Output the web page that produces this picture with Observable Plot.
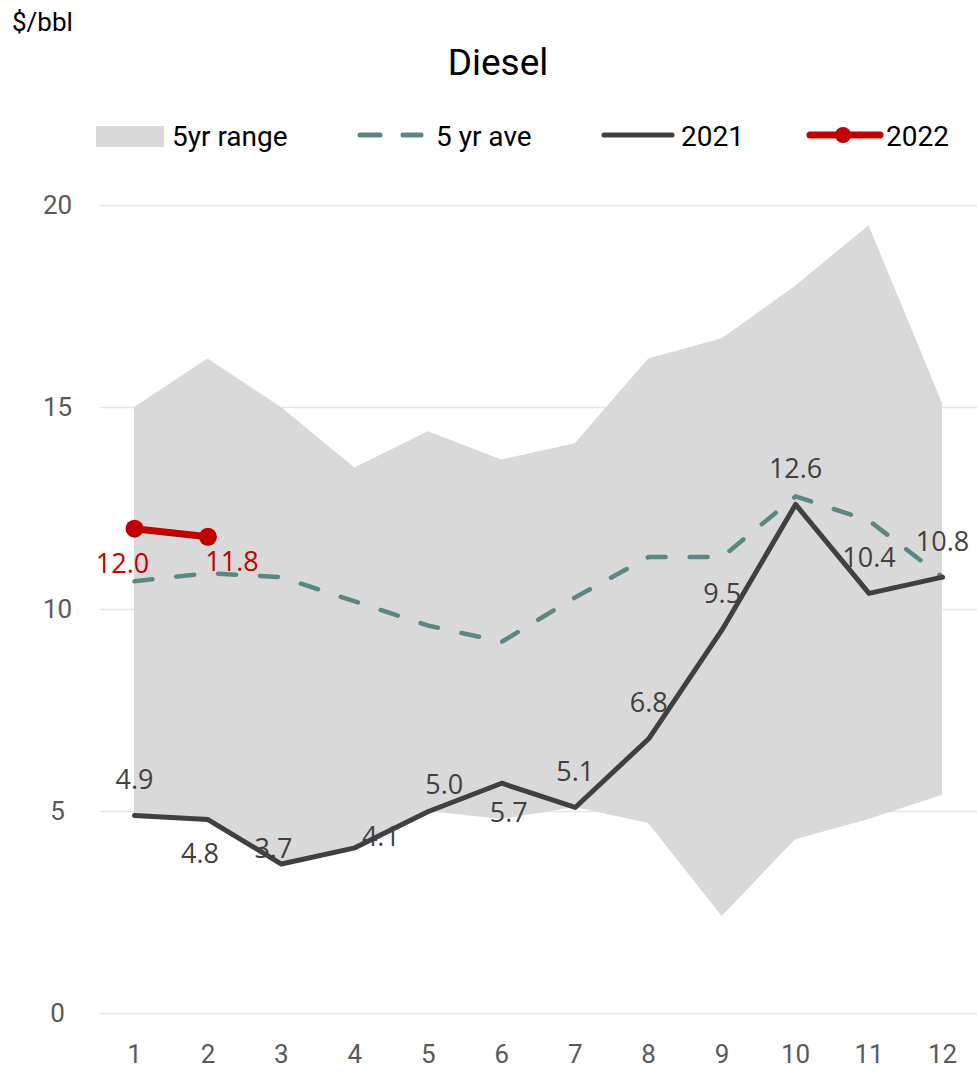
<!DOCTYPE html>
<html>
<head>
<meta charset="utf-8">
<script src="https://cdn.jsdelivr.net/npm/d3@7"></script>
<script src="https://cdn.jsdelivr.net/npm/@observablehq/plot@0.6"></script>
<style>
  body { margin: 0; background: #fff; }
  #header, #chart { width: 977px; }
  #header svg, #chart svg { display: block; }
</style>
</head>
<body>
<div id="header">
  <svg width="977" height="175" font-family="Roboto, 'Liberation Sans', sans-serif">
    <text x="12" y="31" font-size="26" fill="#000">$/bbl</text>
    <text x="498" y="75" font-size="37" fill="#000" text-anchor="middle">Diesel</text>
    <rect x="96" y="126" width="68" height="21" fill="#d9d9d9"></rect>
    <text x="172" y="146" font-size="28" fill="#000">5yr range</text>
    <line x1="360" x2="380" y1="135" y2="135" stroke="#5a8784" stroke-width="5" stroke-linecap="round"></line>
    <line x1="403" x2="421" y1="135" y2="135" stroke="#5a8784" stroke-width="5" stroke-linecap="round"></line>
    <text x="436" y="146" font-size="28" fill="#000">5 yr ave</text>
    <line x1="604" x2="672" y1="135" y2="135" stroke="#404040" stroke-width="5" stroke-linecap="round"></line>
    <text x="681" y="146" font-size="28" fill="#000">2021</text>
    <line x1="810" x2="880" y1="135" y2="135" stroke="#c00000" stroke-width="7" stroke-linecap="round"></line>
    <circle cx="843" cy="135" r="8" fill="#c00000"></circle>
    <text x="886" y="146" font-size="28" fill="#000">2022</text>
  </svg>
</div>
<div id="chart"></div>
<script>
// ---- data ----
const months = [1, 2, 3, 4, 5, 6, 7, 8, 9, 10, 11, 12];
const rangeLow = [4.9, 4.8, 3.7, 4.1, 5.0, 4.8, 5.1, 4.7, 2.4, 4.3, 4.8, 5.4];
const rangeHigh = [15.0, 16.2, 15.0, 13.5, 14.4, 13.7, 14.1, 16.2, 16.7, 18.0, 19.5, 15.1];
const avg5yr = [10.7, 10.9, 10.8, 10.2, 9.6, 9.2, 10.3, 11.3, 11.3, 12.8, 12.2, 10.8];
const y2021 = [4.9, 4.8, 3.7, 4.1, 5.0, 5.7, 5.1, 6.8, 9.5, 12.6, 10.4, 10.8];
const y2022 = [12.0, 11.8];
const yTicks = [0, 5, 10, 15, 20];
const xTicks = months;

// ---- label placement (layout, not data) ----
const place2021 = ["above", "below", "lowAbove", "right", "aboveRight", "belowRight", "above", "above", "above", "above", "above", "above"];
const place2022 = ["belowLeft", "belowRightRed"];
const offsets = {
  above: [0, -35], below: [-8, 35], lowAbove: [-8, -15], right: [26, -11],
  aboveRight: [16, -26], belowRight: [7, 30], belowLeft: [-12, 36], belowRightRed: [24, 26]
};

const rows = months.map((m, i) => ({month: m, low: rangeLow[i], high: rangeHigh[i], avg: avg5yr[i], v: y2021[i], place: place2021[i]}));
const rows22 = y2022.map((v, i) => ({month: months[i], v, place: place2022[i]}));

const labelFont = "'Open Sans', 'Noto Sans', sans-serif";
function labelMarks(data, fill) {
  const groups = d3.group(data, d => d.place);
  return Array.from(groups, ([p, ds]) => Plot.text(ds, {
    x: "month", y: "v", text: d => d.v.toFixed(1),
    dx: offsets[p][0], dy: offsets[p][1],
    fill, fontSize: 27, fontFamily: labelFont
  }));
}

const chart = Plot.plot({
  width: 977,
  height: 898,
  marginLeft: 100,
  marginRight: 0,
  marginTop: 30,
  marginBottom: 60,
  style: {fontFamily: "Roboto, 'Liberation Sans', sans-serif", color: "#595959", background: "#fff"},
  x: {type: "linear", domain: [0.537, 12.4765]},
  y: {domain: [0, 20]},
  marks: [
    Plot.ruleY(yTicks, {stroke: "#e6e6e6", strokeWidth: 1.5}),
    Plot.areaY(rows, {x: "month", y1: "low", y2: "high", fill: "#d9d9d9"}),
    Plot.line(rows, {x: "month", y: "avg", stroke: "#5a8784", strokeWidth: 4.5, strokeDasharray: "18,24", strokeLinecap: "round"}),
    Plot.line(rows, {x: "month", y: "v", stroke: "#404040", strokeWidth: 5}),
    Plot.line(rows22, {x: "month", y: "v", stroke: "#c00000", strokeWidth: 7}),
    Plot.dot(rows22, {x: "month", y: "v", r: 9, fill: "#c00000"}),
    ...labelMarks(rows, "#404040"),
    ...labelMarks(rows22, "#c00000"),
    Plot.axisY(yTicks, {tickSize: 0, tickPadding: 43, textAnchor: "middle", fontSize: 26, label: null, fill: "#595959"}),
    Plot.axisX(xTicks, {tickSize: 0, tickPadding: 31, fontSize: 26, label: null, fill: "#595959"})
  ]
});
document.getElementById("chart").appendChild(chart);
</script>
</body>
</html>
